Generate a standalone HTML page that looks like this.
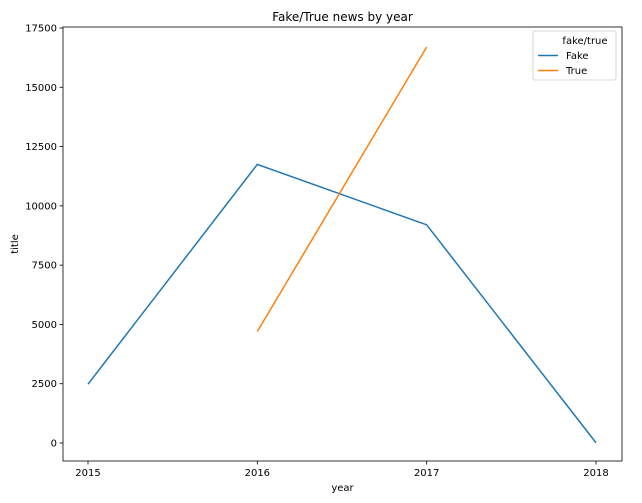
<!DOCTYPE html>
<html><head><meta charset="utf-8"><style>
body{margin:0;background:#fff;font-family:"Liberation Sans","DejaVu Sans",sans-serif;}
svg text{font-family:"DejaVu Sans","Liberation Sans",sans-serif;}
</style></head><body>
<svg id="chart" width="642" height="498" xmlns="http://www.w3.org/2000/svg"></svg>
<script>
const years = [2015, 2016, 2017, 2018];
const fakeYears = [2015, 2016, 2017, 2018];
const fakeValues = [2480, 11750, 9200, 10];
const trueYears = [2016, 2017];
const trueValues = [4700, 16700];
const yTicks = [0, 2500, 5000, 7500, 10000, 12500, 15000, 17500];

const svg = document.getElementById('chart');
const NS = 'http://www.w3.org/2000/svg';
const L = 63, R = 622, T = 27, B = 461;
function xs(v){ return 88 + (v - 2015) * (596 - 88) / 3; }
function ys(v){ return 443 - v * (443 - 28) / 17500; }
function mk(tag, attrs, parent){ const e = document.createElementNS(NS, tag); for (const k in attrs) e.setAttribute(k, attrs[k]); (parent || svg).appendChild(e); return e; }

const title = mk('text', {x: (L + R) / 2, y: 21, 'text-anchor': 'middle', 'font-size': 12, fill: '#000'});
title.textContent = 'Fake/True news by year';



const frame = mk('rect', {x: L, y: T, width: R - L, height: B - T, fill: 'none', stroke: '#000', 'stroke-width': 0.8});



years.forEach(y => {
  const g = mk('g', {});
  
  
  mk('line', {x1: xs(y), x2: xs(y), y1: B, y2: B + 3.5, stroke: '#000', 'stroke-width': 0.8}, g);
  const t = mk('text', {x: xs(y), y: B + 15, 'text-anchor': 'middle', 'font-size': 10}, g);
  t.textContent = y;
});
yTicks.forEach(v => {
  const g = mk('g', {});
  
  
  mk('line', {x1: L - 3.5, x2: L, y1: ys(v), y2: ys(v), stroke: '#000', 'stroke-width': 0.8}, g);
  const t = mk('text', {x: L - 6, y: ys(v) + 3.5, 'text-anchor': 'end', 'font-size': 10}, g);
  t.textContent = v;
});
const xl = mk('text', {x: (L + R) / 2, y: 491, 'text-anchor': 'middle', 'font-size': 10});
xl.textContent = 'year';


const yl = mk('text', {x: 18, y: (T + B) / 2, 'text-anchor': 'middle', 'font-size': 10, transform: 'rotate(-90 18 ' + (T + B) / 2 + ')'});
yl.textContent = 'title';



function line(xv, yv, color, name){
  const p = mk('polyline', {points: xv.map((x, i) => xs(x) + ',' + ys(yv[i])).join(' '), fill: 'none', stroke: color, 'stroke-width': 1.5});
  
  
}
line(fakeYears, fakeValues, '#1f77b4', 'fake-line');
line(trueYears, trueValues, '#ff7f0e', 'true-line');

const lg = mk('g', {});


mk('rect', {x: 533, y: 31, width: 83, height: 49, rx: 2, fill: '#fff', stroke: '#ccc', 'stroke-width': 0.8}, lg);
const lt = mk('text', {x: 585, y: 44, 'text-anchor': 'middle', 'font-size': 10}, lg);
lt.textContent = 'fake/true';
[['Fake', '#1f77b4', 59], ['True', '#ff7f0e', 74]].forEach(([n, c, y]) => {
  const g = mk('g', {}, lg);
  
  
  mk('line', {x1: 538, x2: 558, y1: y - 3.5, y2: y - 3.5, stroke: c, 'stroke-width': 1.5}, g);
  const t = mk('text', {x: 566, y: y, 'font-size': 10}, g);
  t.textContent = n;
});
</script>
</body></html>
